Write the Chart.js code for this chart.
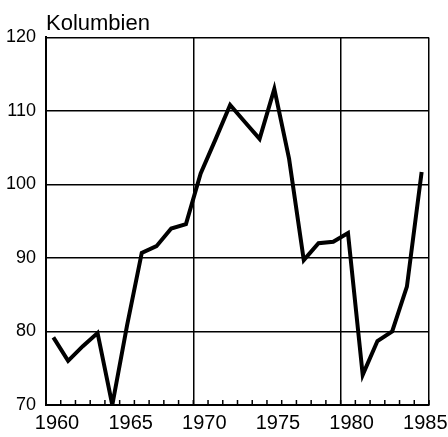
<!DOCTYPE html>
<html>
<head>
<meta charset="utf-8">
<script src="https://cdn.jsdelivr.net/npm/chart.js@4/dist/chart.umd.min.js"></script>
<style>
html,body{margin:0;padding:0;background:#fff;}
canvas{display:block;}
</style>
</head>
<body>
<canvas id="c" width="448" height="437"></canvas>
<script>
const titleText = 'Kolumbien';
const years = [1960,1961,1962,1963,1964,1965,1966,1967,1968,1969,1970,1971,1972,1973,1974,1975,1976,1977,1978,1979,1980,1981,1982,1983,1984,1985];
const values = [79.2,76.0,78.0,79.8,70.0,80.8,90.7,91.6,94.0,94.6,101.5,106.1,110.8,108.5,106.2,113.0,103.5,89.7,92.0,92.2,93.4,74.1,78.7,80.0,86.1,101.7];
const xTickLabels = [1960,1965,1970,1975,1980,1985];
const xGridYears = [1970,1980,1986];
const yTicks = [70,80,90,100,110,120];

const innerTicks = {
  id: 'innerTicks',
  afterDraw(chart) {
    const x = chart.scales.x, ctx = chart.ctx, b = chart.chartArea.bottom;
    ctx.save();
    ctx.strokeStyle = '#000';
    ctx.lineWidth = 1.5;
    for (let v = x.min; v <= x.max; v++) {
      const px = x.getPixelForValue(v);
      ctx.beginPath();
      ctx.moveTo(px, b);
      ctx.lineTo(px, b - 5);
      ctx.stroke();
    }
    ctx.restore();
  }
};

new Chart(document.getElementById('c'), {
  type: 'line',
  data: {
    datasets: [{
      data: years.map((y, i) => ({x: y + 0.5, y: values[i]})),
      borderColor: '#000',
      borderWidth: 4,
      pointRadius: 0,
      tension: 0,
      fill: false,
      borderJoinStyle: 'miter'
    }]
  },
  options: {
    responsive: false,
    animation: false,
    events: [],
    layout: {padding: {left: 0, right: 19, top: 0, bottom: 0}},
    plugins: {
      legend: {display: false},
      tooltip: {enabled: false},
      title: {
        display: true,
        text: titleText,
        align: 'start',
        fullSize: false,
        color: '#000',
        font: {family: '"Liberation Sans", Arial, sans-serif', size: 22, weight: 'normal'},
        padding: {top: 11, bottom: 0}
      }
    },
    scales: {
      x: {
        type: 'linear',
        min: 1960,
        max: 1986,
        afterFit(s) { s.height = 32; },
        ticks: {
          stepSize: 1,
          autoSkip: false,
          maxRotation: 0,
          minRotation: 0,
          color: '#000',
          padding: 6,
          labelOffset: 11,
          font: {family: '"Liberation Sans", Arial, sans-serif', size: 20},
          callback: (v) => xTickLabels.includes(v) ? String(v) : ''
        },
        grid: {
          drawTicks: false,
          lineWidth: 1.5,
          color: (c) => xGridYears.includes(c.tick && c.tick.value) ? '#000' : 'rgba(0,0,0,0)'
        },
        border: {display: true, color: '#000', width: 2}
      },
      y: {
        min: 70,
        max: 120,
        afterFit(s) { s.width = 46; },
        afterBuildTicks(s) { s.ticks = yTicks.map(v => ({value: v})); },
        ticks: {
          color: '#000',
          padding: 10,
          font: {family: '"Liberation Sans", Arial, sans-serif', size: 18},
          callback: (v) => String(v)
        },
        grid: {
          drawTicks: false,
          lineWidth: 1.5,
          color: '#000'
        },
        border: {display: true, color: '#000', width: 2}
      }
    }
  },
  plugins: [innerTicks]
});
</script>
</body>
</html>
